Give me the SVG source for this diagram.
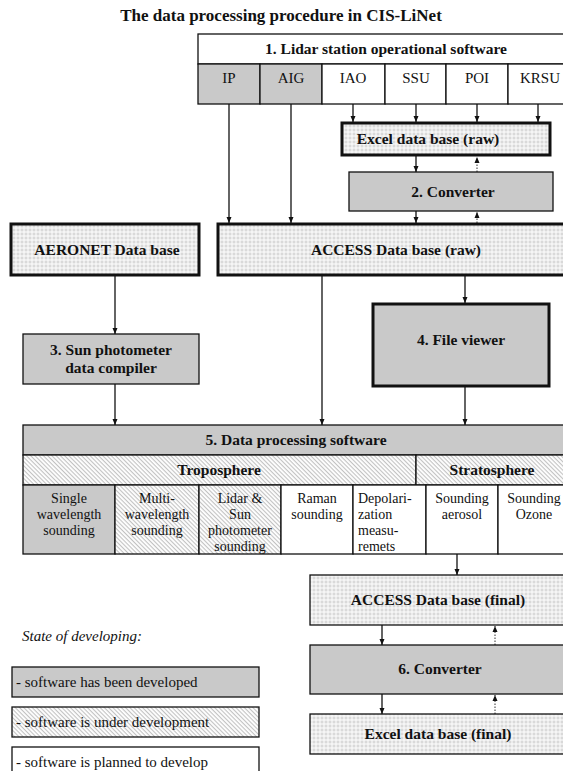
<svg xmlns="http://www.w3.org/2000/svg" width="563" height="771" viewBox="0 0 563 771">
<style>
text{font-family:"Liberation Serif","Times New Roman",serif;fill:#111}
.b{font-weight:bold;font-size:15.5px}
.r{font-size:15px}
.s{font-size:14px}
.lg{font-size:15px}
.c{text-anchor:middle}
.thin{stroke:#111;stroke-width:1.3}
.thick{stroke:#111;stroke-width:3}
.gray{fill:#c9c9c9}
.white{fill:#fff}
.chk{fill:url(#chk)}
.hat{fill:url(#hatch)}
.ln{stroke:#111;stroke-width:1.3;fill:none}
.dot{stroke:#333;stroke-width:1;stroke-dasharray:1.5 1.5;fill:none}
</style>
<defs>
<pattern id="chk" width="4" height="4" patternUnits="userSpaceOnUse"><rect width="4" height="4" fill="#fff"/><rect x="0.5" y="0.5" width="3" height="3" fill="#d9d9d9"/></pattern>
<pattern id="hatch" width="3" height="3" patternUnits="userSpaceOnUse" patternTransform="rotate(45)"><rect width="3" height="3" fill="#fff"/><rect width="3" height="1.1" fill="#c2c2c2"/></pattern>
<marker id="ah" viewBox="0 0 6 6" refX="6" refY="3" markerWidth="6" markerHeight="6" orient="auto" markerUnits="userSpaceOnUse"><path d="M0,0.5 L6,3 L0,5.5 z" fill="#111"/></marker>
</defs>
<rect width="563" height="771" fill="#fff"/>
<text x="281" y="21" class="c" style="font-weight:bold;font-size:17px">The data processing procedure in CIS-LiNet</text>

<g id="connectors">
<line class="ln" x1="229" y1="104" x2="229" y2="223" marker-end="url(#ah)"/>
<line class="ln" x1="291" y1="104" x2="291" y2="223" marker-end="url(#ah)"/>
<line class="ln" x1="353" y1="104" x2="353" y2="122" marker-end="url(#ah)"/>
<line class="ln" x1="416" y1="104" x2="416" y2="122" marker-end="url(#ah)"/>
<line class="ln" x1="477" y1="104" x2="477" y2="122" marker-end="url(#ah)"/>
<line class="ln" x1="538" y1="104" x2="538" y2="122" marker-end="url(#ah)"/>
<line class="ln" x1="416" y1="156" x2="416" y2="172" marker-end="url(#ah)"/>
<line class="dot" x1="477" y1="172" x2="477" y2="157" marker-end="url(#ah)"/>
<line class="ln" x1="416" y1="211" x2="416" y2="223" marker-end="url(#ah)"/>
<line class="dot" x1="477" y1="223" x2="477" y2="212" marker-end="url(#ah)"/>
<line class="ln" x1="115" y1="276" x2="115" y2="334" marker-end="url(#ah)"/>
<line class="ln" x1="115" y1="384" x2="115" y2="425" marker-end="url(#ah)"/>
<line class="ln" x1="322" y1="276" x2="322" y2="425" marker-end="url(#ah)"/>
<line class="ln" x1="465" y1="276" x2="465" y2="303" marker-end="url(#ah)"/>
<line class="ln" x1="465" y1="387" x2="465" y2="425" marker-end="url(#ah)"/>
<line class="ln" x1="457" y1="554" x2="457" y2="575" marker-end="url(#ah)"/>
<line class="ln" x1="382" y1="625" x2="382" y2="645" marker-end="url(#ah)"/>
<line class="dot" x1="495" y1="645" x2="495" y2="626" marker-end="url(#ah)"/>
<line class="ln" x1="382" y1="694" x2="382" y2="714" marker-end="url(#ah)"/>
<line class="dot" x1="495" y1="714" x2="495" y2="695" marker-end="url(#ah)"/>
</g>

<g id="n1">
<rect x="198" y="34" width="370" height="30" class="white thin"/>
<text x="386" y="54" class="b c">1. Lidar station operational software</text>
<rect x="198" y="64" width="62" height="40" class="gray thin"/>
<rect x="260" y="64" width="62" height="40" class="gray thin"/>
<rect x="322" y="64" width="63" height="40" class="white thin"/>
<rect x="385" y="64" width="61" height="40" class="white thin"/>
<rect x="446" y="64" width="62" height="40" class="white thin"/>
<rect x="508" y="64" width="60" height="40" class="white thin"/>
<text x="229" y="83" class="r c">IP</text>
<text x="291" y="83" class="r c">AIG</text>
<text x="353" y="83" class="r c">IAO</text>
<text x="416" y="83" class="r c">SSU</text>
<text x="477" y="83" class="r c">POI</text>
<text x="540" y="83" class="r c">KRSU</text>
</g>

<g id="excel-raw">
<rect x="342" y="123" width="208" height="32" class="chk thick"/>
<text x="428" y="144" class="b c">Excel data base (raw)</text>
</g>

<g id="conv2">
<rect x="349" y="172" width="204" height="39" class="gray thin"/>
<text x="453" y="197" class="b c">2. Converter</text>
</g>

<g id="aeronet">
<rect x="11" y="224" width="188" height="51" class="chk thick"/>
<text x="107" y="255" class="b c">AERONET Data base</text>
</g>

<g id="access-raw">
<rect x="218" y="224" width="350" height="51" class="chk thick"/>
<text x="396" y="255" class="b c">ACCESS Data base (raw)</text>
</g>

<g id="viewer">
<rect x="373" y="304" width="176" height="82" class="gray thick"/>
<text x="461" y="345" class="b c">4. File viewer</text>
</g>

<g id="sunphot">
<rect x="23" y="334" width="176" height="50" class="gray thin"/>
<text x="111" y="355" class="b c">3. Sun photometer</text>
<text x="111" y="373" class="b c">data compiler</text>
</g>

<g id="n5">
<rect x="23" y="425" width="545" height="30" class="gray thin"/>
<text x="296" y="445" class="b c">5. Data processing software</text>
<rect x="23" y="455" width="393" height="30" class="hat thin"/>
<rect x="416" y="455" width="152" height="30" class="hat thin"/>
<text x="219" y="475" class="b c">Troposphere</text>
<text x="492" y="475" class="b c">Stratosphere</text>
<rect x="23" y="485" width="92" height="69" class="gray thin"/>
<rect x="115" y="485" width="84" height="69" class="hat thin"/>
<rect x="199" y="485" width="82" height="69" class="hat thin"/>
<rect x="281" y="485" width="72" height="69" class="white thin"/>
<rect x="353" y="485" width="73" height="69" class="white thin"/>
<rect x="426" y="485" width="72" height="69" class="white thin"/>
<rect x="498" y="485" width="70" height="69" class="white thin"/>
<text class="s c"><tspan x="69" y="503">Single</tspan><tspan x="69" y="519">wavelength</tspan><tspan x="69" y="535">sounding</tspan></text>
<text class="s c"><tspan x="157" y="503">Multi-</tspan><tspan x="157" y="519">wavelength</tspan><tspan x="157" y="535">sounding</tspan></text>
<text class="s c"><tspan x="240" y="503">Lidar &amp;</tspan><tspan x="240" y="519">Sun</tspan><tspan x="240" y="535">photometer</tspan><tspan x="240" y="551">sounding</tspan></text>
<text class="s c"><tspan x="317" y="503">Raman</tspan><tspan x="317" y="519">sounding</tspan></text>
<text class="s"><tspan x="358" y="503">Depolari-</tspan><tspan x="358" y="519">zation</tspan><tspan x="358" y="535">measu-</tspan><tspan x="358" y="551">remets</tspan></text>
<text class="s c"><tspan x="462" y="503">Sounding</tspan><tspan x="462" y="519">aerosol</tspan></text>
<text class="s c"><tspan x="534" y="503">Sounding</tspan><tspan x="534" y="519">Ozone</tspan></text>
</g>

<g id="access-final">
<rect x="310" y="575" width="258" height="50" class="chk thin"/>
<text x="438" y="605" class="b c">ACCESS Data base (final)</text>
</g>

<g id="conv6">
<rect x="310" y="645" width="258" height="49" class="gray thin"/>
<text x="440" y="674" class="b c">6. Converter</text>
</g>

<g id="excel-final">
<rect x="310" y="714" width="258" height="40" class="chk thin"/>
<text x="438" y="739" class="b c">Excel data base (final)</text>
</g>

<g id="legend">
<text x="22" y="641" class="lg" style="font-style:italic">State of developing:</text>
<rect x="12" y="667" width="247" height="30" class="gray thin"/>
<text x="16" y="687" class="lg">- software has been developed</text>
<rect x="12" y="707" width="247" height="30" class="hat thin"/>
<text x="16" y="727" class="lg">- software is under development</text>
<rect x="12" y="747" width="247" height="30" class="white thin"/>
<text x="16" y="767" class="lg">- software is planned to develop</text>
</g>
</svg>
